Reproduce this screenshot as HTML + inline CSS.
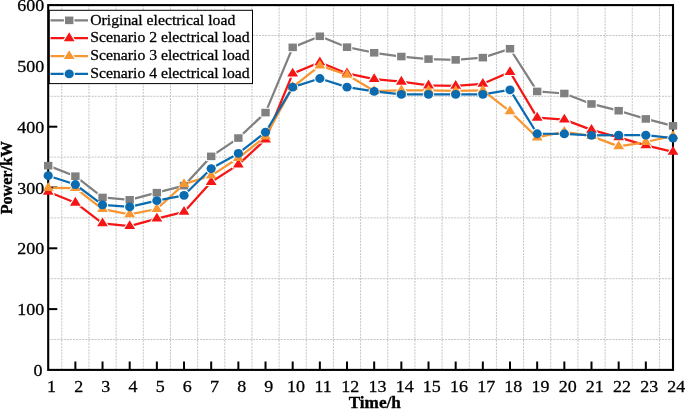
<!DOCTYPE html>
<html><head><meta charset="utf-8"><style>
html,body{margin:0;padding:0;background:#fff;width:685px;height:409px;overflow:hidden}
svg{display:block;will-change:transform}
text{font-family:"Liberation Serif",serif}
</style></head><body><svg width="685" height="409" viewBox="0 0 685 409"><g stroke="#c4c4c4" stroke-width="1" stroke-dasharray="2 1.1"><line x1="61.78" y1="5.1" x2="61.78" y2="369.9"/><line x1="88.95" y1="5.1" x2="88.95" y2="369.9"/><line x1="116.11" y1="5.1" x2="116.11" y2="369.9"/><line x1="143.28" y1="5.1" x2="143.28" y2="369.9"/><line x1="170.44" y1="5.1" x2="170.44" y2="369.9"/><line x1="197.61" y1="5.1" x2="197.61" y2="369.9"/><line x1="224.77" y1="5.1" x2="224.77" y2="369.9"/><line x1="251.94" y1="5.1" x2="251.94" y2="369.9"/><line x1="279.1" y1="5.1" x2="279.1" y2="369.9"/><line x1="306.27" y1="5.1" x2="306.27" y2="369.9"/><line x1="333.43" y1="5.1" x2="333.43" y2="369.9"/><line x1="360.6" y1="5.1" x2="360.6" y2="369.9"/><line x1="387.77" y1="5.1" x2="387.77" y2="369.9"/><line x1="414.93" y1="5.1" x2="414.93" y2="369.9"/><line x1="442.1" y1="5.1" x2="442.1" y2="369.9"/><line x1="469.26" y1="5.1" x2="469.26" y2="369.9"/><line x1="496.43" y1="5.1" x2="496.43" y2="369.9"/><line x1="523.59" y1="5.1" x2="523.59" y2="369.9"/><line x1="550.76" y1="5.1" x2="550.76" y2="369.9"/><line x1="577.92" y1="5.1" x2="577.92" y2="369.9"/><line x1="605.09" y1="5.1" x2="605.09" y2="369.9"/><line x1="632.25" y1="5.1" x2="632.25" y2="369.9"/><line x1="659.42" y1="5.1" x2="659.42" y2="369.9"/><line x1="48.2" y1="339.5" x2="673" y2="339.5"/><line x1="48.2" y1="278.7" x2="673" y2="278.7"/><line x1="48.2" y1="217.9" x2="673" y2="217.9"/><line x1="48.2" y1="157.1" x2="673" y2="157.1"/><line x1="48.2" y1="96.3" x2="673" y2="96.3"/><line x1="48.2" y1="35.5" x2="673" y2="35.5"/></g><rect x="48.2" y="5.1" width="624.8" height="364.8" fill="none" stroke="#000" stroke-width="2.1"/><g stroke="#000" stroke-width="2"><line x1="75.37" y1="369.9" x2="75.37" y2="361.5"/><line x1="102.53" y1="369.9" x2="102.53" y2="361.5"/><line x1="129.7" y1="369.9" x2="129.7" y2="361.5"/><line x1="156.86" y1="369.9" x2="156.86" y2="361.5"/><line x1="184.03" y1="369.9" x2="184.03" y2="361.5"/><line x1="211.19" y1="369.9" x2="211.19" y2="361.5"/><line x1="238.36" y1="369.9" x2="238.36" y2="361.5"/><line x1="265.52" y1="369.9" x2="265.52" y2="361.5"/><line x1="292.69" y1="369.9" x2="292.69" y2="361.5"/><line x1="319.85" y1="369.9" x2="319.85" y2="361.5"/><line x1="347.02" y1="369.9" x2="347.02" y2="361.5"/><line x1="374.18" y1="369.9" x2="374.18" y2="361.5"/><line x1="401.35" y1="369.9" x2="401.35" y2="361.5"/><line x1="428.51" y1="369.9" x2="428.51" y2="361.5"/><line x1="455.68" y1="369.9" x2="455.68" y2="361.5"/><line x1="482.84" y1="369.9" x2="482.84" y2="361.5"/><line x1="510.01" y1="369.9" x2="510.01" y2="361.5"/><line x1="537.17" y1="369.9" x2="537.17" y2="361.5"/><line x1="564.34" y1="369.9" x2="564.34" y2="361.5"/><line x1="591.5" y1="369.9" x2="591.5" y2="361.5"/><line x1="618.67" y1="369.9" x2="618.67" y2="361.5"/><line x1="645.83" y1="369.9" x2="645.83" y2="361.5"/><line x1="48.2" y1="309.1" x2="57.3" y2="309.1"/><line x1="48.2" y1="248.3" x2="57.3" y2="248.3"/><line x1="48.2" y1="187.5" x2="57.3" y2="187.5"/><line x1="48.2" y1="126.7" x2="57.3" y2="126.7"/><line x1="48.2" y1="65.9" x2="57.3" y2="65.9"/></g><mask id="m1" maskUnits="userSpaceOnUse" x="0" y="0" width="685" height="409"><rect width="685" height="409" fill="#fff"/><g stroke="#000" stroke-width="2.2" stroke-linejoin="round"><rect x="44" y="161.87" width="8.4" height="7.6" fill="#000"/><rect x="71.17" y="172.39" width="8.4" height="7.6" fill="#000"/><rect x="98.33" y="193.67" width="8.4" height="7.6" fill="#000"/><rect x="125.5" y="196.04" width="8.4" height="7.6" fill="#000"/><rect x="152.66" y="188.87" width="8.4" height="7.6" fill="#000"/><rect x="179.83" y="181.88" width="8.4" height="7.6" fill="#000"/><rect x="206.99" y="152.57" width="8.4" height="7.6" fill="#000"/><rect x="234.16" y="134.27" width="8.4" height="7.6" fill="#000"/><rect x="261.32" y="108.79" width="8.4" height="7.6" fill="#000"/><rect x="288.49" y="43.56" width="8.4" height="7.6" fill="#000"/><rect x="315.65" y="32.49" width="8.4" height="7.6" fill="#000"/><rect x="342.82" y="43.37" width="8.4" height="7.6" fill="#000"/><rect x="369.98" y="48.97" width="8.4" height="7.6" fill="#000"/><rect x="397.15" y="52.74" width="8.4" height="7.6" fill="#000"/><rect x="424.31" y="55.29" width="8.4" height="7.6" fill="#000"/><rect x="451.48" y="56.08" width="8.4" height="7.6" fill="#000"/><rect x="478.64" y="53.83" width="8.4" height="7.6" fill="#000"/><rect x="505.81" y="44.95" width="8.4" height="7.6" fill="#000"/><rect x="532.97" y="87.64" width="8.4" height="7.6" fill="#000"/><rect x="560.14" y="89.7" width="8.4" height="7.6" fill="#000"/><rect x="587.3" y="100.16" width="8.4" height="7.6" fill="#000"/><rect x="614.47" y="106.91" width="8.4" height="7.6" fill="#000"/><rect x="641.63" y="115.12" width="8.4" height="7.6" fill="#000"/><rect x="668.8" y="122.05" width="8.4" height="7.6" fill="#000"/></g></mask><polyline points="48.2,165.67 75.37,176.19 102.53,197.47 129.7,199.84 156.86,192.67 184.03,185.68 211.19,156.37 238.36,138.07 265.52,112.59 292.69,47.36 319.85,36.29 347.02,47.17 374.18,52.77 401.35,56.54 428.51,59.09 455.68,59.88 482.84,57.63 510.01,48.75 537.17,91.44 564.34,93.5 591.5,103.96 618.67,110.71 645.83,118.92 673,125.85" fill="none" stroke="#808080" stroke-width="2.25" stroke-linejoin="round" mask="url(#m1)"/><rect x="44" y="161.87" width="8.4" height="7.6" fill="#808080"/><rect x="71.17" y="172.39" width="8.4" height="7.6" fill="#808080"/><rect x="98.33" y="193.67" width="8.4" height="7.6" fill="#808080"/><rect x="125.5" y="196.04" width="8.4" height="7.6" fill="#808080"/><rect x="152.66" y="188.87" width="8.4" height="7.6" fill="#808080"/><rect x="179.83" y="181.88" width="8.4" height="7.6" fill="#808080"/><rect x="206.99" y="152.57" width="8.4" height="7.6" fill="#808080"/><rect x="234.16" y="134.27" width="8.4" height="7.6" fill="#808080"/><rect x="261.32" y="108.79" width="8.4" height="7.6" fill="#808080"/><rect x="288.49" y="43.56" width="8.4" height="7.6" fill="#808080"/><rect x="315.65" y="32.49" width="8.4" height="7.6" fill="#808080"/><rect x="342.82" y="43.37" width="8.4" height="7.6" fill="#808080"/><rect x="369.98" y="48.97" width="8.4" height="7.6" fill="#808080"/><rect x="397.15" y="52.74" width="8.4" height="7.6" fill="#808080"/><rect x="424.31" y="55.29" width="8.4" height="7.6" fill="#808080"/><rect x="451.48" y="56.08" width="8.4" height="7.6" fill="#808080"/><rect x="478.64" y="53.83" width="8.4" height="7.6" fill="#808080"/><rect x="505.81" y="44.95" width="8.4" height="7.6" fill="#808080"/><rect x="532.97" y="87.64" width="8.4" height="7.6" fill="#808080"/><rect x="560.14" y="89.7" width="8.4" height="7.6" fill="#808080"/><rect x="587.3" y="100.16" width="8.4" height="7.6" fill="#808080"/><rect x="614.47" y="106.91" width="8.4" height="7.6" fill="#808080"/><rect x="641.63" y="115.12" width="8.4" height="7.6" fill="#808080"/><rect x="668.8" y="122.05" width="8.4" height="7.6" fill="#808080"/><mask id="m2" maskUnits="userSpaceOnUse" x="0" y="0" width="685" height="409"><rect width="685" height="409" fill="#fff"/><g stroke="#000" stroke-width="2.2" stroke-linejoin="round"><polygon points="48.2,185.89 53.6,194.69 42.8,194.69" fill="#000"/><polygon points="75.37,196.83 80.77,205.63 69.97,205.63" fill="#000"/><polygon points="102.53,217.51 107.93,226.31 97.13,226.31" fill="#000"/><polygon points="129.7,220.3 135.1,229.1 124.3,229.1" fill="#000"/><polygon points="156.86,212.82 162.26,221.62 151.46,221.62" fill="#000"/><polygon points="184.03,206.07 189.43,214.87 178.63,214.87" fill="#000"/><polygon points="211.19,176.16 216.59,184.96 205.79,184.96" fill="#000"/><polygon points="238.36,158.71 243.76,167.51 232.96,167.51" fill="#000"/><polygon points="265.52,133.66 270.92,142.46 260.12,142.46" fill="#000"/><polygon points="292.69,67.75 298.09,76.55 287.29,76.55" fill="#000"/><polygon points="319.85,56.39 325.25,65.19 314.45,65.19" fill="#000"/><polygon points="347.02,67.57 352.42,76.37 341.62,76.37" fill="#000"/><polygon points="374.18,73.17 379.58,81.97 368.78,81.97" fill="#000"/><polygon points="401.35,75.84 406.75,84.64 395.95,84.64" fill="#000"/><polygon points="428.51,79.61 433.91,88.41 423.11,88.41" fill="#000"/><polygon points="455.68,79.98 461.08,88.78 450.28,88.78" fill="#000"/><polygon points="482.84,77.97 488.24,86.77 477.44,86.77" fill="#000"/><polygon points="510.01,66.17 515.41,74.97 504.61,74.97" fill="#000"/><polygon points="537.17,111.83 542.57,120.63 531.77,120.63" fill="#000"/><polygon points="564.34,113.78 569.74,122.58 558.94,122.58" fill="#000"/><polygon points="591.5,124.06 596.9,132.86 586.1,132.86" fill="#000"/><polygon points="618.67,131.53 624.07,140.33 613.27,140.33" fill="#000"/><polygon points="645.83,139.56 651.23,148.36 640.43,148.36" fill="#000"/><polygon points="673,146.07 678.4,154.87 667.6,154.87" fill="#000"/></g></mask><polyline points="48.2,191.76 75.37,202.7 102.53,223.37 129.7,226.17 156.86,218.69 184.03,211.94 211.19,182.03 238.36,164.58 265.52,139.53 292.69,73.62 319.85,62.25 347.02,73.44 374.18,79.03 401.35,81.71 428.51,85.48 455.68,85.84 482.84,83.84 510.01,72.04 537.17,117.7 564.34,119.65 591.5,129.92 618.67,137.4 645.83,145.43 673,151.93" fill="none" stroke="#F51515" stroke-width="2.25" stroke-linejoin="round" mask="url(#m2)"/><polygon points="48.2,185.89 53.6,194.69 42.8,194.69" fill="#F51515"/><polygon points="75.37,196.83 80.77,205.63 69.97,205.63" fill="#F51515"/><polygon points="102.53,217.51 107.93,226.31 97.13,226.31" fill="#F51515"/><polygon points="129.7,220.3 135.1,229.1 124.3,229.1" fill="#F51515"/><polygon points="156.86,212.82 162.26,221.62 151.46,221.62" fill="#F51515"/><polygon points="184.03,206.07 189.43,214.87 178.63,214.87" fill="#F51515"/><polygon points="211.19,176.16 216.59,184.96 205.79,184.96" fill="#F51515"/><polygon points="238.36,158.71 243.76,167.51 232.96,167.51" fill="#F51515"/><polygon points="265.52,133.66 270.92,142.46 260.12,142.46" fill="#F51515"/><polygon points="292.69,67.75 298.09,76.55 287.29,76.55" fill="#F51515"/><polygon points="319.85,56.39 325.25,65.19 314.45,65.19" fill="#F51515"/><polygon points="347.02,67.57 352.42,76.37 341.62,76.37" fill="#F51515"/><polygon points="374.18,73.17 379.58,81.97 368.78,81.97" fill="#F51515"/><polygon points="401.35,75.84 406.75,84.64 395.95,84.64" fill="#F51515"/><polygon points="428.51,79.61 433.91,88.41 423.11,88.41" fill="#F51515"/><polygon points="455.68,79.98 461.08,88.78 450.28,88.78" fill="#F51515"/><polygon points="482.84,77.97 488.24,86.77 477.44,86.77" fill="#F51515"/><polygon points="510.01,66.17 515.41,74.97 504.61,74.97" fill="#F51515"/><polygon points="537.17,111.83 542.57,120.63 531.77,120.63" fill="#F51515"/><polygon points="564.34,113.78 569.74,122.58 558.94,122.58" fill="#F51515"/><polygon points="591.5,124.06 596.9,132.86 586.1,132.86" fill="#F51515"/><polygon points="618.67,131.53 624.07,140.33 613.27,140.33" fill="#F51515"/><polygon points="645.83,139.56 651.23,148.36 640.43,148.36" fill="#F51515"/><polygon points="673,146.07 678.4,154.87 667.6,154.87" fill="#F51515"/><mask id="m3" maskUnits="userSpaceOnUse" x="0" y="0" width="685" height="409"><rect width="685" height="409" fill="#fff"/><g stroke="#000" stroke-width="2.2" stroke-linejoin="round"><polygon points="48.2,182.12 53.6,190.92 42.8,190.92" fill="#000"/><polygon points="75.37,182.24 80.77,191.04 69.97,191.04" fill="#000"/><polygon points="102.53,203.22 107.93,212.02 97.13,212.02" fill="#000"/><polygon points="129.7,208.51 135.1,217.31 124.3,217.31" fill="#000"/><polygon points="156.86,203.16 162.26,211.96 151.46,211.96" fill="#000"/><polygon points="184.03,178.29 189.43,187.09 178.63,187.09" fill="#000"/><polygon points="211.19,169.78 216.59,178.58 205.79,178.58" fill="#000"/><polygon points="238.36,152.15 243.76,160.95 232.96,160.95" fill="#000"/><polygon points="265.52,130.62 270.92,139.42 260.12,139.42" fill="#000"/><polygon points="292.69,81.31 298.09,90.11 287.29,90.11" fill="#000"/><polygon points="319.85,59.73 325.25,68.53 314.45,68.53" fill="#000"/><polygon points="347.02,68.91 352.42,77.71 341.62,77.71" fill="#000"/><polygon points="374.18,85.14 379.58,93.94 368.78,93.94" fill="#000"/><polygon points="401.35,84.47 406.75,93.27 395.95,93.27" fill="#000"/><polygon points="428.51,84.6 433.91,93.4 423.11,93.4" fill="#000"/><polygon points="455.68,85.02 461.08,93.82 450.28,93.82" fill="#000"/><polygon points="482.84,84.6 488.24,93.4 477.44,93.4" fill="#000"/><polygon points="510.01,105.51 515.41,114.31 504.61,114.31" fill="#000"/><polygon points="537.17,131.59 542.57,140.39 531.77,140.39" fill="#000"/><polygon points="564.34,125.88 569.74,134.68 558.94,134.68" fill="#000"/><polygon points="591.5,130.26 596.9,139.06 586.1,139.06" fill="#000"/><polygon points="618.67,140.53 624.07,149.33 613.27,149.33" fill="#000"/><polygon points="645.83,136.15 651.23,144.95 640.43,144.95" fill="#000"/><polygon points="673,130.14 678.4,138.94 667.6,138.94" fill="#000"/></g></mask><polyline points="48.2,187.99 75.37,188.11 102.53,209.08 129.7,214.37 156.86,209.02 184.03,184.16 211.19,175.64 238.36,158.01 265.52,136.49 292.69,87.18 319.85,65.6 347.02,74.78 374.18,91.01 401.35,90.34 428.51,90.46 455.68,90.89 482.84,90.46 510.01,111.38 537.17,137.46 564.34,131.75 591.5,136.12 618.67,146.4 645.83,142.02 673,136" fill="none" stroke="#F89632" stroke-width="2.25" stroke-linejoin="round" mask="url(#m3)"/><polygon points="48.2,182.12 53.6,190.92 42.8,190.92" fill="#F89632"/><polygon points="75.37,182.24 80.77,191.04 69.97,191.04" fill="#F89632"/><polygon points="102.53,203.22 107.93,212.02 97.13,212.02" fill="#F89632"/><polygon points="129.7,208.51 135.1,217.31 124.3,217.31" fill="#F89632"/><polygon points="156.86,203.16 162.26,211.96 151.46,211.96" fill="#F89632"/><polygon points="184.03,178.29 189.43,187.09 178.63,187.09" fill="#F89632"/><polygon points="211.19,169.78 216.59,178.58 205.79,178.58" fill="#F89632"/><polygon points="238.36,152.15 243.76,160.95 232.96,160.95" fill="#F89632"/><polygon points="265.52,130.62 270.92,139.42 260.12,139.42" fill="#F89632"/><polygon points="292.69,81.31 298.09,90.11 287.29,90.11" fill="#F89632"/><polygon points="319.85,59.73 325.25,68.53 314.45,68.53" fill="#F89632"/><polygon points="347.02,68.91 352.42,77.71 341.62,77.71" fill="#F89632"/><polygon points="374.18,85.14 379.58,93.94 368.78,93.94" fill="#F89632"/><polygon points="401.35,84.47 406.75,93.27 395.95,93.27" fill="#F89632"/><polygon points="428.51,84.6 433.91,93.4 423.11,93.4" fill="#F89632"/><polygon points="455.68,85.02 461.08,93.82 450.28,93.82" fill="#F89632"/><polygon points="482.84,84.6 488.24,93.4 477.44,93.4" fill="#F89632"/><polygon points="510.01,105.51 515.41,114.31 504.61,114.31" fill="#F89632"/><polygon points="537.17,131.59 542.57,140.39 531.77,140.39" fill="#F89632"/><polygon points="564.34,125.88 569.74,134.68 558.94,134.68" fill="#F89632"/><polygon points="591.5,130.26 596.9,139.06 586.1,139.06" fill="#F89632"/><polygon points="618.67,140.53 624.07,149.33 613.27,149.33" fill="#F89632"/><polygon points="645.83,136.15 651.23,144.95 640.43,144.95" fill="#F89632"/><polygon points="673,130.14 678.4,138.94 667.6,138.94" fill="#F89632"/><mask id="m4" maskUnits="userSpaceOnUse" x="0" y="0" width="685" height="409"><rect width="685" height="409" fill="#fff"/><g stroke="#000" stroke-width="2.2" stroke-linejoin="round"><ellipse cx="48.2" cy="175.7" rx="4.6" ry="4.4" fill="#000"/><ellipse cx="75.37" cy="184.52" rx="4.6" ry="4.4" fill="#000"/><ellipse cx="102.53" cy="204.83" rx="4.6" ry="4.4" fill="#000"/><ellipse cx="129.7" cy="206.96" rx="4.6" ry="4.4" fill="#000"/><ellipse cx="156.86" cy="200.63" rx="4.6" ry="4.4" fill="#000"/><ellipse cx="184.03" cy="195.28" rx="4.6" ry="4.4" fill="#000"/><ellipse cx="211.19" cy="168.53" rx="4.6" ry="4.4" fill="#000"/><ellipse cx="238.36" cy="153.45" rx="4.6" ry="4.4" fill="#000"/><ellipse cx="265.52" cy="132.23" rx="4.6" ry="4.4" fill="#000"/><ellipse cx="292.69" cy="87.18" rx="4.6" ry="4.4" fill="#000"/><ellipse cx="319.85" cy="78.49" rx="4.6" ry="4.4" fill="#000"/><ellipse cx="347.02" cy="87.18" rx="4.6" ry="4.4" fill="#000"/><ellipse cx="374.18" cy="91.44" rx="4.6" ry="4.4" fill="#000"/><ellipse cx="401.35" cy="94.42" rx="4.6" ry="4.4" fill="#000"/><ellipse cx="428.51" cy="94.35" rx="4.6" ry="4.4" fill="#000"/><ellipse cx="455.68" cy="94.35" rx="4.6" ry="4.4" fill="#000"/><ellipse cx="482.84" cy="94.35" rx="4.6" ry="4.4" fill="#000"/><ellipse cx="510.01" cy="89.92" rx="4.6" ry="4.4" fill="#000"/><ellipse cx="537.17" cy="133.75" rx="4.6" ry="4.4" fill="#000"/><ellipse cx="564.34" cy="133.94" rx="4.6" ry="4.4" fill="#000"/><ellipse cx="591.5" cy="135.46" rx="4.6" ry="4.4" fill="#000"/><ellipse cx="618.67" cy="135.21" rx="4.6" ry="4.4" fill="#000"/><ellipse cx="645.83" cy="135.21" rx="4.6" ry="4.4" fill="#000"/><ellipse cx="673" cy="138.13" rx="4.6" ry="4.4" fill="#000"/></g></mask><polyline points="48.2,175.7 75.37,184.52 102.53,204.83 129.7,206.96 156.86,200.63 184.03,195.28 211.19,168.53 238.36,153.45 265.52,132.23 292.69,87.18 319.85,78.49 347.02,87.18 374.18,91.44 401.35,94.42 428.51,94.35 455.68,94.35 482.84,94.35 510.01,89.92 537.17,133.75 564.34,133.94 591.5,135.46 618.67,135.21 645.83,135.21 673,138.13" fill="none" stroke="#0A6BB0" stroke-width="2.25" stroke-linejoin="round" mask="url(#m4)"/><ellipse cx="48.2" cy="175.7" rx="4.6" ry="4.4" fill="#0A6BB0"/><ellipse cx="75.37" cy="184.52" rx="4.6" ry="4.4" fill="#0A6BB0"/><ellipse cx="102.53" cy="204.83" rx="4.6" ry="4.4" fill="#0A6BB0"/><ellipse cx="129.7" cy="206.96" rx="4.6" ry="4.4" fill="#0A6BB0"/><ellipse cx="156.86" cy="200.63" rx="4.6" ry="4.4" fill="#0A6BB0"/><ellipse cx="184.03" cy="195.28" rx="4.6" ry="4.4" fill="#0A6BB0"/><ellipse cx="211.19" cy="168.53" rx="4.6" ry="4.4" fill="#0A6BB0"/><ellipse cx="238.36" cy="153.45" rx="4.6" ry="4.4" fill="#0A6BB0"/><ellipse cx="265.52" cy="132.23" rx="4.6" ry="4.4" fill="#0A6BB0"/><ellipse cx="292.69" cy="87.18" rx="4.6" ry="4.4" fill="#0A6BB0"/><ellipse cx="319.85" cy="78.49" rx="4.6" ry="4.4" fill="#0A6BB0"/><ellipse cx="347.02" cy="87.18" rx="4.6" ry="4.4" fill="#0A6BB0"/><ellipse cx="374.18" cy="91.44" rx="4.6" ry="4.4" fill="#0A6BB0"/><ellipse cx="401.35" cy="94.42" rx="4.6" ry="4.4" fill="#0A6BB0"/><ellipse cx="428.51" cy="94.35" rx="4.6" ry="4.4" fill="#0A6BB0"/><ellipse cx="455.68" cy="94.35" rx="4.6" ry="4.4" fill="#0A6BB0"/><ellipse cx="482.84" cy="94.35" rx="4.6" ry="4.4" fill="#0A6BB0"/><ellipse cx="510.01" cy="89.92" rx="4.6" ry="4.4" fill="#0A6BB0"/><ellipse cx="537.17" cy="133.75" rx="4.6" ry="4.4" fill="#0A6BB0"/><ellipse cx="564.34" cy="133.94" rx="4.6" ry="4.4" fill="#0A6BB0"/><ellipse cx="591.5" cy="135.46" rx="4.6" ry="4.4" fill="#0A6BB0"/><ellipse cx="618.67" cy="135.21" rx="4.6" ry="4.4" fill="#0A6BB0"/><ellipse cx="645.83" cy="135.21" rx="4.6" ry="4.4" fill="#0A6BB0"/><ellipse cx="673" cy="138.13" rx="4.6" ry="4.4" fill="#0A6BB0"/><g font-family="Liberation Serif" font-size="18" fill="#000" stroke="#000" stroke-width="0.3"><text transform="translate(42.5,376.4) scale(1,0.9)" text-anchor="end">0</text><text transform="translate(44.2,315.1) scale(1,0.9)" text-anchor="end">100</text><text transform="translate(44.2,254.3) scale(1,0.9)" text-anchor="end">200</text><text transform="translate(44.2,193.5) scale(1,0.9)" text-anchor="end">300</text><text transform="translate(44.2,132.7) scale(1,0.9)" text-anchor="end">400</text><text transform="translate(44.2,71.9) scale(1,0.9)" text-anchor="end">500</text><text transform="translate(44.2,11.1) scale(1,0.9)" text-anchor="end">600</text><text transform="translate(51.5,392) scale(1,0.9)" text-anchor="middle">1</text><text transform="translate(78.67,392) scale(1,0.9)" text-anchor="middle">2</text><text transform="translate(105.83,392) scale(1,0.9)" text-anchor="middle">3</text><text transform="translate(133,392) scale(1,0.9)" text-anchor="middle">4</text><text transform="translate(160.16,392) scale(1,0.9)" text-anchor="middle">5</text><text transform="translate(187.33,392) scale(1,0.9)" text-anchor="middle">6</text><text transform="translate(214.49,392) scale(1,0.9)" text-anchor="middle">7</text><text transform="translate(241.66,392) scale(1,0.9)" text-anchor="middle">8</text><text transform="translate(268.82,392) scale(1,0.9)" text-anchor="middle">9</text><text transform="translate(295.99,392) scale(1,0.9)" text-anchor="middle">10</text><text transform="translate(323.15,392) scale(1,0.9)" text-anchor="middle">11</text><text transform="translate(350.32,392) scale(1,0.9)" text-anchor="middle">12</text><text transform="translate(377.48,392) scale(1,0.9)" text-anchor="middle">13</text><text transform="translate(404.65,392) scale(1,0.9)" text-anchor="middle">14</text><text transform="translate(431.81,392) scale(1,0.9)" text-anchor="middle">15</text><text transform="translate(458.98,392) scale(1,0.9)" text-anchor="middle">16</text><text transform="translate(486.14,392) scale(1,0.9)" text-anchor="middle">17</text><text transform="translate(513.31,392) scale(1,0.9)" text-anchor="middle">18</text><text transform="translate(540.47,392) scale(1,0.9)" text-anchor="middle">19</text><text transform="translate(567.64,392) scale(1,0.9)" text-anchor="middle">20</text><text transform="translate(594.8,392) scale(1,0.9)" text-anchor="middle">21</text><text transform="translate(621.97,392) scale(1,0.9)" text-anchor="middle">22</text><text transform="translate(649.13,392) scale(1,0.9)" text-anchor="middle">23</text><text transform="translate(676.3,392) scale(1,0.9)" text-anchor="middle">24</text></g><text transform="translate(374.75,408.4) scale(1,0.93)" text-anchor="middle" font-family="Liberation Serif" font-weight="bold" font-size="17.2" stroke="#000" stroke-width="0.35">Time/h</text><text transform="translate(12.1,177.7) rotate(-90) scale(1,1.07)" text-anchor="middle" font-family="Liberation Serif" font-weight="bold" font-size="16.1" stroke="#000" stroke-width="0.35">Power/kW</text><rect x="49.3" y="10.3" width="203.2" height="73.3" fill="#fff" stroke="#000" stroke-width="1"/><mask id="m5" maskUnits="userSpaceOnUse" x="0" y="0" width="685" height="409"><rect width="685" height="409" fill="#fff"/><g stroke="#000" stroke-width="2.2" stroke-linejoin="round"><rect x="65" y="16.55" width="8.4" height="7.6" fill="#000"/></g></mask><path d="M50.5 20.35H88" stroke="#808080" stroke-width="2.25" mask="url(#m5)"/><rect x="65" y="16.55" width="8.4" height="7.6" fill="#808080"/><text transform="translate(90.2,24.55) scale(1,0.87)" font-family="Liberation Serif" font-size="15.75" stroke="#000" stroke-width="0.3">Original electrical load</text><mask id="m6" maskUnits="userSpaceOnUse" x="0" y="0" width="685" height="409"><rect width="685" height="409" fill="#fff"/><g stroke="#000" stroke-width="2.2" stroke-linejoin="round"><polygon points="69.2,32.33 74.6,41.13 63.8,41.13" fill="#000"/></g></mask><path d="M50.5 38.2H88" stroke="#F51515" stroke-width="2.25" mask="url(#m6)"/><polygon points="69.2,32.33 74.6,41.13 63.8,41.13" fill="#F51515"/><text transform="translate(90.2,42.4) scale(1,0.87)" font-family="Liberation Serif" font-size="15.75" stroke="#000" stroke-width="0.3">Scenario 2 electrical load</text><mask id="m7" maskUnits="userSpaceOnUse" x="0" y="0" width="685" height="409"><rect width="685" height="409" fill="#fff"/><g stroke="#000" stroke-width="2.2" stroke-linejoin="round"><polygon points="69.2,50.18 74.6,58.98 63.8,58.98" fill="#000"/></g></mask><path d="M50.5 56.05H88" stroke="#F89632" stroke-width="2.25" mask="url(#m7)"/><polygon points="69.2,50.18 74.6,58.98 63.8,58.98" fill="#F89632"/><text transform="translate(90.2,60.25) scale(1,0.87)" font-family="Liberation Serif" font-size="15.75" stroke="#000" stroke-width="0.3">Scenario 3 electrical load</text><mask id="m8" maskUnits="userSpaceOnUse" x="0" y="0" width="685" height="409"><rect width="685" height="409" fill="#fff"/><g stroke="#000" stroke-width="2.2" stroke-linejoin="round"><ellipse cx="69.2" cy="73.9" rx="4.6" ry="4.4" fill="#000"/></g></mask><path d="M50.5 73.9H88" stroke="#0A6BB0" stroke-width="2.25" mask="url(#m8)"/><ellipse cx="69.2" cy="73.9" rx="4.6" ry="4.4" fill="#0A6BB0"/><text transform="translate(90.2,78.1) scale(1,0.87)" font-family="Liberation Serif" font-size="15.75" stroke="#000" stroke-width="0.3">Scenario 4 electrical load</text></svg></body></html>
